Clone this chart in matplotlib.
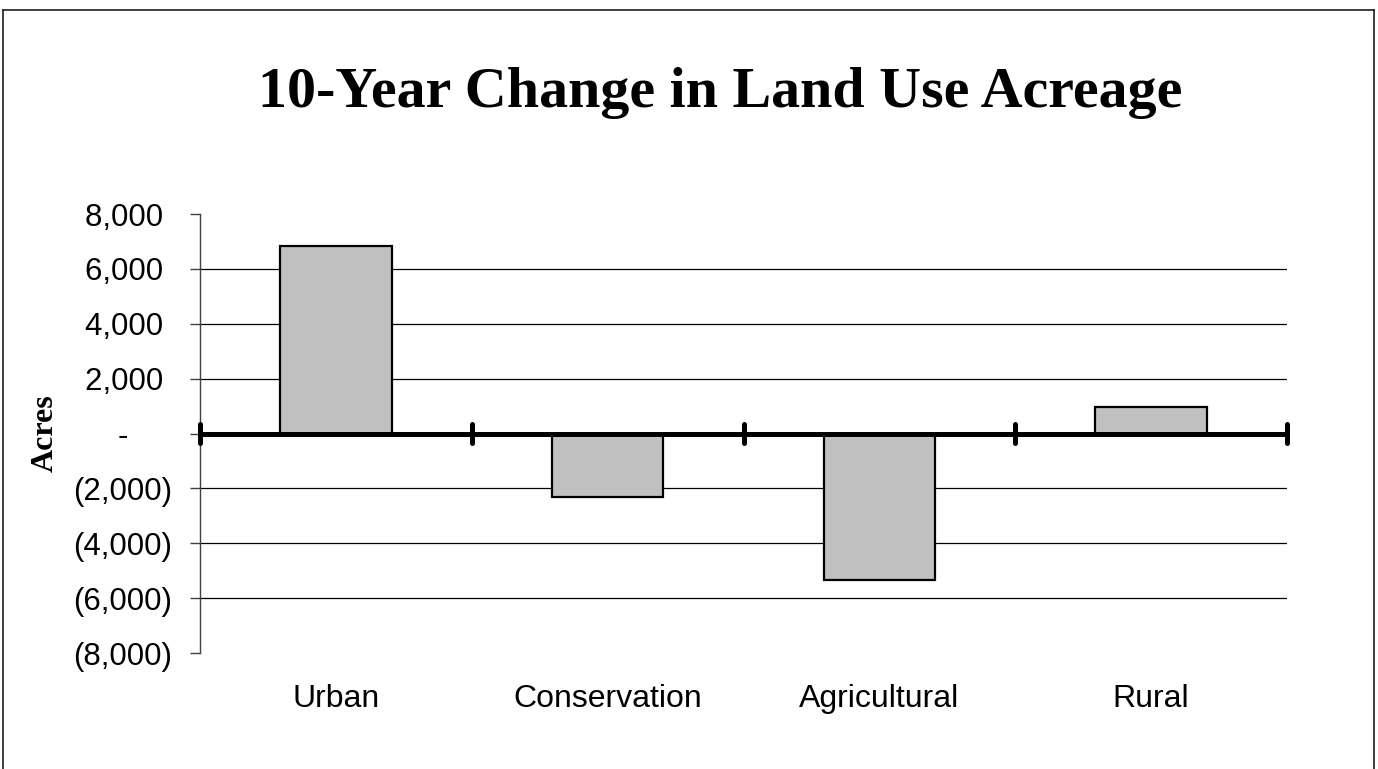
import matplotlib
matplotlib.use("Agg")
import matplotlib.pyplot as plt
from matplotlib.lines import Line2D
from matplotlib.ticker import FixedLocator, FuncFormatter
import numpy as np

categories = ["Urban", "Conservation", "Agricultural", "Rural"]
acre_change = [6850, -2300, -5350, 950]
y_ticks = [-8000, -6000, -4000, -2000, 0, 2000, 4000, 6000, 8000]

W, H = 1378, 769
fig = plt.figure(figsize=(W / 100, H / 100), dpi=100)
fig.patch.set_facecolor("white")

# outer frame (open at the bottom)
frame_kw = dict(color="#202020", linewidth=1.2, transform=fig.transFigure)
fig.add_artist(Line2D([3 / W, 3 / W], [0, 1 - 10 / H], **frame_kw))
fig.add_artist(Line2D([3 / W, 1374 / W], [1 - 10 / H, 1 - 10 / H], **frame_kw))
fig.add_artist(Line2D([1374 / W, 1374 / W], [0, 1 - 10 / H], **frame_kw))

left, right, top, bottom = 200, 1287, 214, 653
ax = fig.add_axes([left / W, 1 - bottom / H, (right - left) / W, (bottom - top) / H])

x = np.arange(len(categories))
ax.set_xlim(-0.5, len(categories) - 0.5)
ax.set_ylim(y_ticks[0], y_ticks[-1])

# interior gridlines
for v in y_ticks[1:-1]:
    if v != 0:
        ax.axhline(v, color="black", linewidth=0.9, zorder=1)

ax.bar(x, acre_change, width=0.41, color="#C0C0C0", edgecolor="black",
       linewidth=1.6, zorder=3)

# heavy zero line with rounded category separators
ax.axhline(0, color="black", linewidth=3.6, zorder=4)
bounds = np.arange(len(categories) + 1) - 0.5
for b in bounds:
    ax.plot([b, b], [-330, 330], color="black", linewidth=3.6,
            solid_capstyle="round", clip_on=False, zorder=5)

for s in ["top", "right", "bottom"]:
    ax.spines[s].set_visible(False)
ax.spines["left"].set_color("#404040")
ax.spines["left"].set_linewidth(1.0)

# accounting-style labels: positives leave room for the closing parenthesis
def fmt(v, _):
    if v == 0:
        return "-     "
    if v < 0:
        return f"({abs(int(v)):,})"
    return f"{int(v):,} "

ax.yaxis.set_major_locator(FixedLocator(y_ticks))
ax.yaxis.set_major_formatter(FuncFormatter(fmt))
ax.tick_params(axis="y", direction="out", length=7.2, width=1.0, color="#404040",
               labelsize=22.5, pad=13)
for lbl in ax.get_yticklabels():
    lbl.set_fontfamily("Liberation Sans")

ax.set_xticks(x)
ax.set_xticklabels(categories, fontfamily="Liberation Sans", fontsize=23)
ax.tick_params(axis="x", length=0, pad=22)

ax.set_ylabel("Acres", fontfamily="Liberation Serif", fontweight="bold",
              fontsize=23, va="center")
ax.yaxis.set_label_coords((45 - left) / (right - left), 0.5)

fig.text(720 / W, 1 - 107 / H, "10-Year Change in Land Use Acreage",
         ha="center", va="baseline", fontfamily="Liberation Serif",
         fontweight="bold", fontsize=41.8)

fig.savefig("out.png", dpi=100)
